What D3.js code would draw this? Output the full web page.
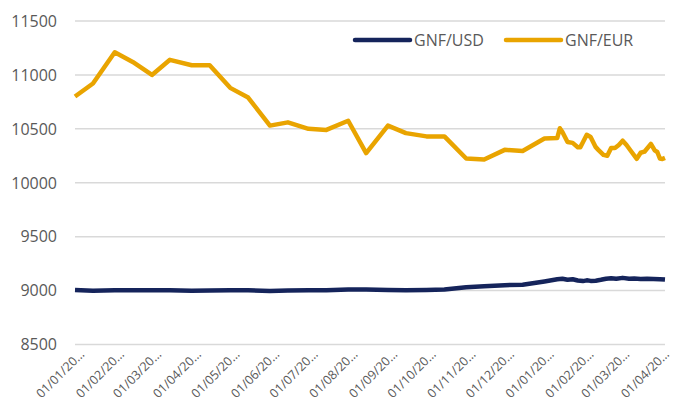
<!DOCTYPE html>
<html>
<head>
<meta charset="utf-8">
<script src="https://cdn.jsdelivr.net/npm/d3@7"></script>
<style>
	body { margin: 0; background: #fff; }
	svg text { font-family: "Open Sans", sans-serif; fill: #595959; }
</style>
</head>
<body>
<div id="chart"></div>
<script>
///////////////////////////////////////////////////////////////////////////
/////////////////////////////// Data //////////////////////////////////////
///////////////////////////////////////////////////////////////////////////

var seriesNames = ["GNF/USD", "GNF/EUR"];

var eurDates = ["2020-01-01","2020-01-15","2020-02-01","2020-02-15","2020-03-01","2020-03-15",
	"2020-04-01","2020-04-15","2020-05-01","2020-05-15","2020-06-01","2020-06-15","2020-07-01",
	"2020-07-15","2020-08-01","2020-08-15","2020-09-01","2020-09-15","2020-10-01","2020-10-15",
	"2020-11-01","2020-11-15","2020-12-01","2020-12-15","2021-01-01","2021-01-11","2021-01-13",
	"2021-01-15","2021-01-19","2021-01-23","2021-01-27","2021-01-29","2021-01-31","2021-02-03",
	"2021-02-06","2021-02-10","2021-02-12","2021-02-16","2021-02-19","2021-02-22","2021-02-25",
	"2021-02-28","2021-03-03","2021-03-06","2021-03-10","2021-03-14","2021-03-17","2021-03-20",
	"2021-03-25","2021-03-28","2021-03-30","2021-04-01","2021-04-03","2021-04-05"];
var eurValues = [10800,10920,11210,11120,11000,11140,
	11090,11090,10880,10790,10530,10560,10500,
	10490,10575,10275,10530,10460,10430,10430,
	10225,10215,10305,10295,10410,10415,10505,
	10470,10378,10370,10330,10330,10375,10445,
	10425,10330,10305,10258,10250,10322,10322,
	10350,10390,10350,10285,10222,10278,10288,
	10360,10300,10285,10225,10220,10230];

var usdDates = ["2020-01-01","2020-01-15","2020-02-01","2020-02-15","2020-03-01","2020-03-15",
	"2020-04-01","2020-04-15","2020-05-01","2020-05-15","2020-06-01","2020-06-15","2020-07-01",
	"2020-07-15","2020-08-01","2020-08-15","2020-09-01","2020-09-15","2020-10-01","2020-10-15",
	"2020-11-01","2020-11-15","2020-12-01","2020-12-15","2021-01-01","2021-01-11","2021-01-15",
	"2021-01-19","2021-01-23","2021-01-27","2021-01-31","2021-02-03","2021-02-06","2021-02-10",
	"2021-02-14","2021-02-18","2021-02-22","2021-02-26","2021-03-03","2021-03-08","2021-03-12",
	"2021-03-17","2021-03-22","2021-03-27","2021-04-01","2021-04-05"];
var usdValues = [9005,8998,9002,9003,9003,9003,
	8998,9000,9002,9003,8995,9000,9002,
	9003,9010,9010,9005,9002,9005,9010,
	9030,9040,9050,9055,9085,9105,9110,
	9100,9105,9093,9088,9095,9090,9092,
	9100,9110,9115,9110,9118,9110,9112,
	9108,9110,9108,9105,9102];

var yTicks = [8500, 9000, 9500, 10000, 10500, 11000, 11500];

var xTickDates = ["2020-01-01","2020-02-01","2020-03-01","2020-04-01","2020-05-01","2020-06-01",
	"2020-07-01","2020-08-01","2020-09-01","2020-10-01","2020-11-01","2020-12-01","2021-01-01",
	"2021-02-01","2021-03-01","2021-04-01"];
var xTickLabels = ["01/01/20…","01/02/20…","01/03/20…","01/04/20…","01/05/20…","01/06/20…",
	"01/07/20…","01/08/20…","01/09/20…","01/10/20…","01/11/20…","01/12/20…","01/01/20…",
	"01/02/20…","01/03/20…","01/04/20…"];

///////////////////////////////////////////////////////////////////////////
/////////////////////////////// Setup /////////////////////////////////////
///////////////////////////////////////////////////////////////////////////

var width = 675, height = 401;
var margin = {left: 75, top: 21, right: 10, bottom: 56.5};

var parse = d3.timeParse("%Y-%m-%d");

var svg = d3.select("#chart").append("svg")
	.attr("width", width)
	.attr("height", height);

var x = d3.scaleTime()
	.domain([parse("2020-01-01"), parse("2021-04-05")])
	.range([margin.left, width - margin.right]);

var y = d3.scaleLinear()
	.domain([8500, 11500])
	.range([height - margin.bottom, margin.top]);

//Gridlines
svg.append("g")
	.attr("class", "grid")
	.selectAll("line")
	.data(yTicks)
	.enter().append("line")
	.attr("x1", x.range()[0])
	.attr("x2", x.range()[1])
	.attr("y1", function(d) { return y(d); })
	.attr("y2", function(d) { return y(d); })
	.style("stroke", "#D9D9D9")
	.style("stroke-width", 1.5);

//Y axis labels
svg.append("g")
	.selectAll("text")
	.data(yTicks)
	.enter().append("text")
	.attr("x", 57)
	.attr("y", function(d) { return y(d); })
	.attr("dy", "0.36em")
	.style("text-anchor", "end")
	.style("font-size", "16px")
	.text(function(d) { return d; });

//X axis labels, rotated
svg.append("g")
	.selectAll("text")
	.data(xTickDates)
	.enter().append("text")
	.attr("transform", function(d) { return "translate(" + (x(parse(d)) + 7) + ",352) rotate(-45)"; })
	.attr("dy", "0.35em")
	.style("text-anchor", "end")
	.style("font-size", "12.5px")
	.text(function(d, i) { return xTickLabels[i]; });

///////////////////////////////////////////////////////////////////////////
/////////////////////////////// Lines /////////////////////////////////////
///////////////////////////////////////////////////////////////////////////

var line = d3.line()
	.x(function(d) { return x(d.date); })
	.y(function(d) { return y(d.value); });

var usdData = usdDates.map(function(d, i) { return {date: parse(d), value: usdValues[i]}; });
var eurData = eurDates.map(function(d, i) { return {date: parse(d), value: eurValues[i]}; });

var colors = ["#15245B", "#E9A400"];

svg.append("path")
	.datum(usdData)
	.attr("d", line)
	.style("fill", "none")
	.style("stroke", colors[0])
	.style("stroke-width", 4.5)
	.style("stroke-linejoin", "round");

svg.append("path")
	.datum(eurData)
	.attr("d", line)
	.style("fill", "none")
	.style("stroke", colors[1])
	.style("stroke-width", 4.5)
	.style("stroke-linejoin", "round");

///////////////////////////////////////////////////////////////////////////
/////////////////////////////// Legend ////////////////////////////////////
///////////////////////////////////////////////////////////////////////////

var legend = svg.append("g").attr("class", "legend");
var legendX = [355, 506];

seriesNames.forEach(function(name, i) {
	legend.append("line")
		.attr("x1", legendX[i])
		.attr("x2", legendX[i] + 55)
		.attr("y1", 40)
		.attr("y2", 40)
		.style("stroke", colors[i])
		.style("stroke-width", 4.5)
		.style("stroke-linecap", "round");
	legend.append("text")
		.attr("x", legendX[i] + 59)
		.attr("y", 40)
		.attr("dy", "0.36em")
		.style("font-size", "16px")
		.text(name);
});
</script>
</body>
</html>
